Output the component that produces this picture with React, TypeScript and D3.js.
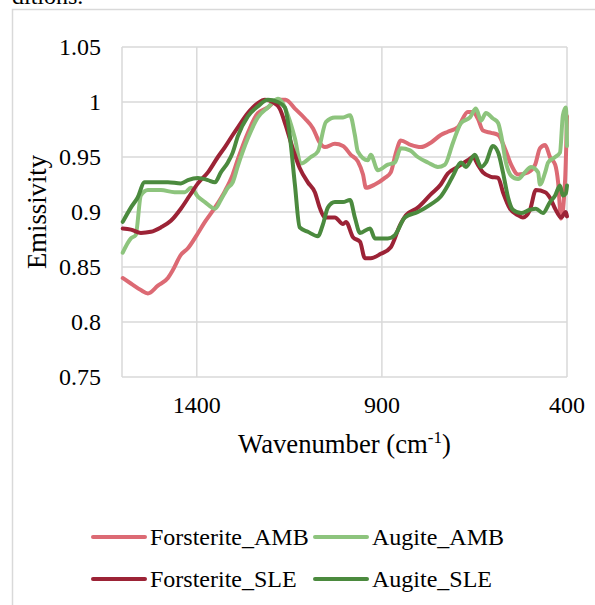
import React, { useEffect, useRef } from "react";
import * as d3 from "d3";

// [wavenumber, emissivity]
const forsteriteAMB: [number, number][] = [
  [1600, 0.840], [1578, 0.835], [1551, 0.829], [1532, 0.826], [1505, 0.833], [1478, 0.840],
  [1465, 0.847], [1443, 0.861], [1424, 0.867], [1400, 0.879], [1378, 0.891], [1351, 0.904],
  [1324, 0.919], [1303, 0.934], [1289, 0.948], [1262, 0.972], [1235, 0.990], [1208, 0.995],
  [1181, 1.002], [1160, 1.002], [1135, 0.994], [1108, 0.985], [1086, 0.976], [1068, 0.963],
  [1054, 0.959], [1027, 0.962], [1005, 0.960], [984, 0.952], [965, 0.946], [951, 0.934],
  [943, 0.922], [919, 0.925], [892, 0.931], [876, 0.936], [862, 0.954], [849, 0.965],
  [822, 0.961], [795, 0.959], [768, 0.963], [741, 0.970], [722, 0.973], [695, 0.977],
  [668, 0.991], [654, 0.991], [641, 0.985], [627, 0.974], [605, 0.972], [586, 0.970],
  [568, 0.958], [551, 0.943], [532, 0.934], [505, 0.936], [486, 0.943], [473, 0.958],
  [459, 0.961], [446, 0.950], [432, 0.943], [424, 0.927], [416, 0.894], [405, 0.930], [400, 0.987],
];

const augiteAMB: [number, number][] = [
  [1600, 0.863], [1578, 0.876], [1565, 0.879], [1551, 0.915], [1532, 0.920], [1497, 0.920],
  [1460, 0.918], [1432, 0.918], [1416, 0.922], [1397, 0.914], [1378, 0.909], [1351, 0.903],
  [1335, 0.911], [1316, 0.922], [1303, 0.927], [1289, 0.942], [1262, 0.967], [1235, 0.986],
  [1208, 0.995], [1181, 1.003], [1168, 0.999], [1154, 0.988], [1135, 0.967], [1119, 0.944],
  [1092, 0.950], [1073, 0.955], [1051, 0.982], [1027, 0.986], [1005, 0.986], [986, 0.988],
  [973, 0.970], [965, 0.955], [938, 0.947], [930, 0.952], [911, 0.938], [884, 0.943],
  [865, 0.945], [849, 0.958], [824, 0.956], [803, 0.950], [776, 0.945], [749, 0.941],
  [730, 0.943], [708, 0.963], [686, 0.981], [662, 0.986], [646, 0.994], [632, 0.983],
  [619, 0.990], [600, 0.985], [586, 0.981], [578, 0.970], [565, 0.945], [551, 0.933],
  [532, 0.930], [514, 0.936], [497, 0.941], [478, 0.936], [473, 0.925], [459, 0.936],
  [451, 0.945], [432, 0.950], [419, 0.954], [411, 0.988], [403, 0.995], [400, 0.960],
];

const forsteriteSLE: [number, number][] = [
  [1600, 0.885], [1578, 0.884], [1551, 0.881], [1524, 0.882], [1497, 0.886], [1470, 0.892],
  [1443, 0.903], [1419, 0.915], [1397, 0.926], [1370, 0.936], [1343, 0.950], [1324, 0.959],
  [1303, 0.970], [1289, 0.977], [1262, 0.990], [1235, 0.999], [1216, 1.002], [1195, 1.000],
  [1176, 0.994], [1160, 0.979], [1141, 0.958], [1122, 0.940], [1100, 0.927], [1081, 0.918],
  [1068, 0.904], [1054, 0.895], [1027, 0.895], [1005, 0.889], [997, 0.891], [978, 0.877],
  [959, 0.873], [946, 0.858], [930, 0.858], [903, 0.862], [876, 0.868], [851, 0.888],
  [835, 0.897], [803, 0.904], [768, 0.916], [741, 0.925], [722, 0.935], [695, 0.941],
  [668, 0.947], [654, 0.950], [641, 0.943], [627, 0.936], [605, 0.932], [586, 0.931],
  [573, 0.918], [554, 0.903], [532, 0.897], [519, 0.895], [500, 0.902], [484, 0.920],
  [459, 0.918], [446, 0.913], [432, 0.903], [416, 0.895], [403, 0.900], [400, 0.896],
];

const augiteSLE: [number, number][] = [
  [1600, 0.891], [1578, 0.904], [1560, 0.913], [1541, 0.927], [1514, 0.927], [1478, 0.927],
  [1443, 0.926], [1424, 0.929], [1397, 0.931], [1370, 0.929], [1351, 0.927], [1335, 0.936],
  [1316, 0.945], [1303, 0.954], [1289, 0.969], [1262, 0.987], [1235, 0.996], [1208, 1.002],
  [1181, 1.000], [1162, 0.995], [1149, 0.970], [1135, 0.925], [1122, 0.886], [1100, 0.882],
  [1073, 0.878], [1059, 0.889], [1046, 0.904], [1027, 0.909], [1005, 0.909], [986, 0.911],
  [973, 0.895], [959, 0.881], [932, 0.885], [919, 0.876], [884, 0.876], [865, 0.879],
  [838, 0.895], [803, 0.900], [768, 0.907], [741, 0.914], [722, 0.924], [708, 0.933],
  [686, 0.945], [673, 0.941], [649, 0.952], [632, 0.941], [619, 0.945], [600, 0.960],
  [586, 0.954], [573, 0.936], [559, 0.913], [546, 0.902], [524, 0.899], [500, 0.902],
  [484, 0.903], [465, 0.899], [446, 0.909], [432, 0.915], [419, 0.924], [411, 0.915],
  [403, 0.917], [400, 0.924],
];

const seriesNames = ["Forsterite_AMB", "Augite_AMB", "Forsterite_SLE", "Augite_SLE"];
const seriesData = [forsteriteAMB, augiteAMB, forsteriteSLE, augiteSLE];
const seriesColors = ["#dc6a74", "#8dc47d", "#9c2336", "#4b8a3e"];

const yTicks = [0.75, 0.8, 0.85, 0.9, 0.95, 1, 1.05];
const xTicks = [1400, 900, 400];

const W = 595;
const H = 605;
const FONT = "'Liberation Serif', 'Times New Roman', serif";

export default function App() {
  const ref = useRef<SVGSVGElement>(null);

  useEffect(() => {
    const svg = d3.select(ref.current);
    svg.selectAll("*").remove();

    const x = d3.scaleLinear().domain([1602, 400]).range([122, 567]);
    const y = d3.scaleLinear().domain([0.75, 1.05]).range([377, 47]);

    svg.append("rect").attr("width", W).attr("height", H).attr("fill", "#fff");

    // text of the page above, cut off
    svg.append("text")
      .attr("x", 12).attr("y", 4)
      .attr("font-family", FONT).attr("font-size", 24)
      .text("ditions.");

    // chart frame
    svg.append("rect")
      .attr("x", 12.5).attr("y", 9.5)
      .attr("width", 700).attr("height", 700)
      .attr("fill", "none").attr("stroke", "#d9d9d9").attr("stroke-width", 1.5);

    const grid = svg.append("g").attr("stroke", "#d9d9d9").attr("stroke-width", 1.5);
    yTicks.forEach((t) => {
      grid.append("line")
        .attr("x1", x(1602)).attr("x2", x(400))
        .attr("y1", y(t)).attr("y2", y(t));
    });
    grid.append("line")
      .attr("x1", x(1602)).attr("x2", x(1602))
      .attr("y1", y(1.05)).attr("y2", y(0.75));
    xTicks.forEach((t) => {
      grid.append("line")
        .attr("x1", x(t)).attr("x2", x(t))
        .attr("y1", y(1.05)).attr("y2", y(0.75));
    });

    svg.append("g")
      .selectAll("text")
      .data(yTicks)
      .join("text")
      .attr("x", 101)
      .attr("y", (d) => y(d))
      .attr("dy", "0.34em")
      .attr("text-anchor", "end")
      .attr("font-family", FONT)
      .attr("font-size", 24)
      .text((d) => String(d));

    svg.append("g")
      .selectAll("text")
      .data(xTicks)
      .join("text")
      .attr("x", (d) => x(d))
      .attr("y", 413)
      .attr("text-anchor", "middle")
      .attr("font-family", FONT)
      .attr("font-size", 24)
      .text((d) => String(d));

    const xt = svg.append("text")
      .attr("x", (x(1602) + x(400)) / 2)
      .attr("y", 453)
      .attr("text-anchor", "middle")
      .attr("font-family", FONT)
      .attr("font-size", 26.7);
    xt.append("tspan").text("Wavenumber (cm");
    xt.append("tspan").attr("dy", -10).attr("font-size", 17).text("-1");
    xt.append("tspan").attr("dy", 10).text(")");

    svg.append("text")
      .attr("transform", `translate(46,${(y(1.05) + y(0.75)) / 2}) rotate(-90)`)
      .attr("text-anchor", "middle")
      .attr("font-family", FONT)
      .attr("font-size", 26.7)
      .text("Emissivity");

    const line = d3.line<[number, number]>()
      .x((d) => x(d[0]))
      .y((d) => y(d[1]))
      .curve(d3.curveMonotoneX);

    seriesData.forEach((data, i) => {
      svg.append("path")
        .attr("fill", "none")
        .attr("stroke", seriesColors[i])
        .attr("stroke-width", 4)
        .attr("stroke-linejoin", "round")
        .attr("stroke-linecap", "round")
        .attr("d", line(data));
    });

    // legend, two columns
    const legendPos = [
      [93, 537], [315, 537], [93, 579], [315, 579],
    ];
    seriesNames.forEach((name, i) => {
      const [lx, ly] = legendPos[i];
      svg.append("line")
        .attr("x1", lx).attr("x2", lx + 52)
        .attr("y1", ly).attr("y2", ly)
        .attr("stroke", seriesColors[i])
        .attr("stroke-width", 4)
        .attr("stroke-linecap", "round");
      svg.append("text")
        .attr("x", lx + 57).attr("y", ly + 8)
        .attr("font-family", FONT)
        .attr("font-size", 24)
        .text(name);
    });
  }, []);

  return (
    <svg
      ref={ref}
      width={W}
      height={H}
      style={{ position: "absolute", left: 0, top: 0 }}
    />
  );
}
